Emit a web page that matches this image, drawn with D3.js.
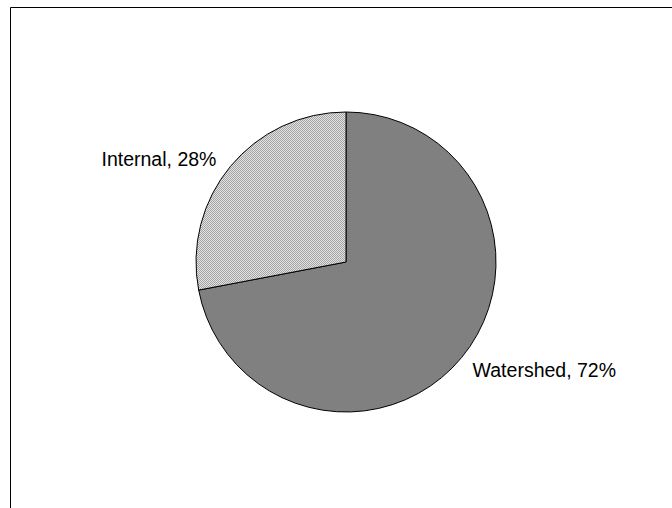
<!DOCTYPE html>
<html><head><meta charset="utf-8">
<script src="https://cdn.jsdelivr.net/npm/d3@7"></script>
<style>html,body{margin:0;padding:0;background:#fff;}svg{display:block;}</style>
</head><body>
<svg id="chart" width="672" height="508"></svg>
<script>
const categories = ["Watershed", "Internal"];
const values = [72, 28];
const labels = ["Watershed, 72%", "Internal, 28%"];

const svg = d3.select("#chart");
const W = 672, H = 508;
const cx = 346, cy = 262, r = 150;

const defs = svg.append("defs");
const pat = defs.append("pattern").attr("id", "dots").attr("patternUnits", "userSpaceOnUse")
  .attr("width", 2).attr("height", 2);
pat.append("rect").attr("width", 2).attr("height", 2).attr("fill", "#e2e2e2");
pat.append("rect").attr("x", 0).attr("y", 0).attr("width", 1).attr("height", 1).attr("fill", "#a4a4a4");
pat.append("rect").attr("x", 1).attr("y", 1).attr("width", 1).attr("height", 1).attr("fill", "#a4a4a4");

// frame
svg.append("path").attr("d", `M10.5,${H} V7.5 H${W}`).attr("fill", "none").attr("stroke", "#000").attr("stroke-width", 1);

const fills = {"Watershed": "#808080", "Internal": "url(#dots)"};
const pie = d3.pie().sort(null).value(d => d.v);
const data = pie(categories.map((c, i) => ({c, v: values[i], label: labels[i]})));
const arc = d3.arc().innerRadius(0).outerRadius(r);

const g = svg.append("g").attr("transform", `translate(${cx},${cy})`);
g.selectAll("path").data(data).join("path")
  .attr("d", arc)
  .attr("fill", d => fills[d.data.c])
  .attr("stroke", "#000").attr("stroke-width", 1).attr("stroke-linejoin", "miter");

// labels placed outside along the slice mid-angle
const labelArc = d3.arc().innerRadius(r * 1.13).outerRadius(r * 1.13);
const shift = {"Watershed": [-4, 2], "Internal": [1, 7]};
g.selectAll("text").data(data).join("text")
  .attr("x", d => labelArc.centroid(d)[0] + shift[d.data.c][0])
  .attr("y", d => labelArc.centroid(d)[1] + shift[d.data.c][1])
  .attr("text-anchor", d => (d.startAngle + d.endAngle) / 2 > Math.PI ? "end" : "start")
  .attr("dominant-baseline", "middle")
  .attr("font-family", "Liberation Sans, Arial, sans-serif")
  .attr("font-size", 19.5)
  .attr("fill", "#000")
  .text(d => d.data.label);
</script>
</body></html>
